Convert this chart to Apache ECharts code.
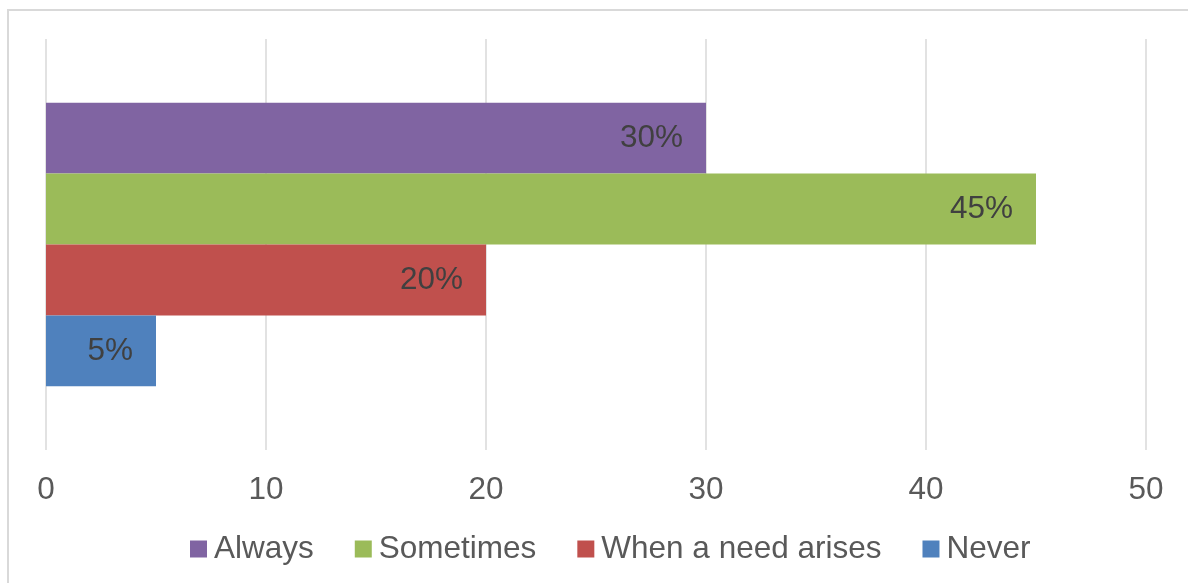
<!DOCTYPE html>
<html>
<head>
<meta charset="utf-8">
<script src="https://cdn.jsdelivr.net/npm/echarts@6/dist/echarts.min.js"></script>
<style>
html, body { margin: 0; padding: 0; background: #fff; }
#frame {
    position: absolute; left: 7px; top: 9px;
    width: 1300px; height: 700px;
    border-left: 2px solid #d9d9d9; border-top: 2px solid #d9d9d9;
}
#main { position: absolute; left: 0; top: 0; width: 1188px; height: 583px; }
</style>
</head>
<body>
<div id="frame"></div>
<div id="main"></div>
<script>
// answer shares, one bar per answer
var categories = ['Answer'];
var seriesNames = ['Always', 'Sometimes', 'When a need arises', 'Never'];
var alwaysVals = [30];
var sometimesVals = [45];
var needVals = [20];
var neverVals = [5];
var xTicks = [0, 10, 20, 30, 40, 50];

var colors = ['#8064A2', '#9BBB59', '#C0504D', '#4F81BD'];
var allVals = [alwaysVals, sometimesVals, needVals, neverVals];

var myChart = echarts.init(document.getElementById('main'));

var series = seriesNames.map(function(name, i) {
    return {
        name: name,
        type: 'bar',
        data: allVals[i],
        barGap: 0,
        barCategoryGap: '31%',
        itemStyle: { color: colors[i] },
        label: {
            show: true,
            position: 'insideRight',
            distance: 23,
            formatter: '{c}%',
            color: '#404040',
            fontSize: 31.5,
            fontFamily: 'Liberation Sans'
        }
    };
});

var option = {
    animation: false,
    color: colors,
    textStyle: { fontFamily: 'Liberation Sans' },
    grid: { left: 46, right: 42, top: 39, bottom: 133 },
    legend: {
        data: seriesNames,
        bottom: 13,
        left: 185,
        icon: 'rect',
        itemWidth: 17,
        itemHeight: 17,
        itemGap: 41,
        textStyle: { fontSize: 31.5, color: '#595959', padding: [0, 0, 0, 2] }
    },
    xAxis: {
        type: 'value',
        min: xTicks[0],
        max: xTicks[xTicks.length - 1],
        interval: 10,
        axisLine: { show: false },
        axisTick: { show: false },
        axisLabel: { fontSize: 31.5, color: '#595959', margin: 24 },
        splitLine: { lineStyle: { color: '#d9d9d9', width: 1.5 } }
    },
    yAxis: {
        type: 'category',
        inverse: true,
        data: categories,
        axisLine: { show: false },
        axisTick: { show: false },
        axisLabel: { show: false }
    },
    series: series
};
myChart.setOption(option);
</script>
</body>
</html>
